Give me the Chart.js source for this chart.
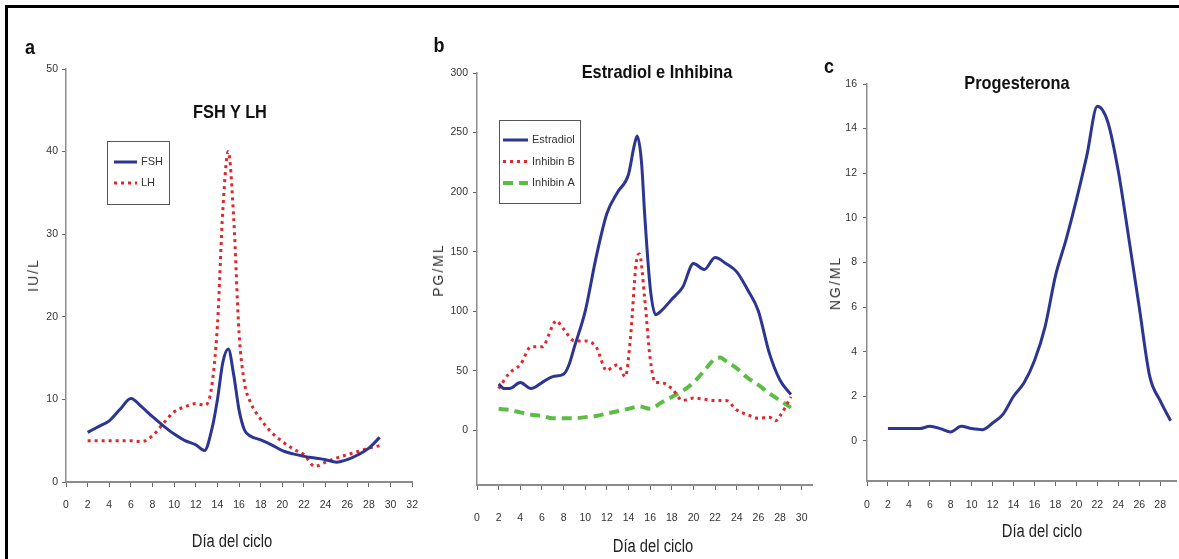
<!DOCTYPE html>
<html>
<head>
<meta charset="utf-8">
<script src="https://cdn.jsdelivr.net/npm/chart.js@4.4.0/dist/chart.umd.min.js"></script>
<style>
  html, body { margin: 0; padding: 0; background: #fff; }
  body { width: 1179px; height: 559px; position: relative; overflow: hidden;
         font-family: 'Liberation Sans', Arial, sans-serif; }
  .frame { position: absolute; left: 5px; top: 5px; width: 1200px; height: 600px;
           border-top: 3px solid #000; border-left: 3px solid #000; }
  canvas { position: absolute; top: 0; }
  .txt { position: absolute; white-space: nowrap; transform: translate(-50%, -50%); color: #111; }
  .letter { font-weight: bold; font-size: 20px; transform: translate(-50%, -50%) scaleX(0.9); }
  .title { font-weight: bold; font-size: 19px; transform: translate(-50%, -50%) scaleX(0.86); }
  .xt { font-size: 18px; color: #222; transform: translate(-50%, -50%) scaleX(0.82); }
  .yt { font-size: 14px; color: #333; letter-spacing: 2px;
        transform: translate(-50%, -50%) rotate(-90deg); }
</style>
</head>
<body>
<div class="frame"></div>

<canvas id="chartA" width="430" height="559" style="left:0px"></canvas>
<canvas id="chartB" width="410" height="559" style="left:420px"></canvas>
<canvas id="chartC" width="369" height="559" style="left:810px"></canvas>

<div class="txt letter" style="left:30px; top:47px">a</div>
<div class="txt letter" style="left:439px; top:45px">b</div>
<div class="txt letter" style="left:829px; top:66px">c</div>

<div class="txt title" style="left:230px; top:112px">FSH Y LH</div>
<div class="txt title" style="left:657px; top:72px">Estradiol e Inhibina</div>
<div class="txt title" style="left:1017px; top:83px">Progesterona</div>

<div class="txt xt" style="left:232px; top:541px">Día del ciclo</div>
<div class="txt xt" style="left:653px; top:546px">Día del ciclo</div>
<div class="txt xt" style="left:1042px; top:531px">Día del ciclo</div>

<div class="txt yt" style="left:33px; top:275px">IU/L</div>
<div class="txt yt" style="left:438px; top:270px">PG/ML</div>
<div class="txt yt" style="left:835px; top:283px">NG/ML</div>

<script>
// ---- Panel a: FSH y LH (IU/L) ----
const fshDays = [2, 3, 4, 5, 6, 7, 8, 9, 10, 11, 12, 12.8, 13.5, 14, 14.5, 15, 15.5, 16, 16.5, 17, 18, 19, 20, 21, 22, 23, 24, 25, 26, 27, 28, 29];
const fshVals = [6, 6.7, 7.4, 8.8, 10.1, 9.1, 7.9, 6.8, 5.8, 5.0, 4.5, 3.8, 6.5, 10, 14.5, 16.1, 13, 8.7, 6.3, 5.6, 5.1, 4.5, 3.8, 3.4, 3.1, 2.9, 2.7, 2.4, 2.7, 3.3, 4.1, 5.4];
const lhDays = [2, 3, 4, 5, 6, 7, 8, 9, 10, 11, 12, 12.8, 13.4, 14, 14.5, 15, 15.5, 16, 16.5, 17, 18, 19, 20, 21, 22, 23, 24, 25, 26, 27, 28, 29];
const lhVals = [5, 5, 5, 5, 5, 4.9, 5.6, 7.1, 8.5, 9.1, 9.5, 9.3, 11, 19, 33, 40, 32, 18, 12, 9.8, 7.6, 6.0, 4.9, 4.0, 3.3, 1.9, 2.4, 2.9, 3.3, 3.7, 4.1, 4.4];
const xTicksA = [0, 2, 4, 6, 8, 10, 12, 14, 16, 18, 20, 22, 24, 26, 28, 30, 32];
const yTicksA = [0, 10, 20, 30, 40, 50];

// ---- Panel b: Estradiol e Inhibina (PG/ML) ----
const e2Days = [2, 2.5, 3, 4, 5, 6, 7, 8, 8.5, 9, 10, 11, 12, 13, 14, 14.5, 14.8, 15.2, 15.5, 16, 16.5, 17, 18, 19, 20, 21, 22, 23, 24, 25, 26, 27, 28, 29];
const e2Vals = [39, 35, 35, 40, 35, 40, 45, 47, 55, 70, 100, 145, 182, 200, 215, 238, 247, 225, 180, 120, 97, 100, 110, 120, 140, 135, 145, 140, 133, 118, 100, 65, 42, 30];
const inhBDays = [2, 3, 4, 5, 6, 7, 7.3, 8, 9, 10, 11, 12, 12.5, 13, 13.7, 14.2, 14.7, 15, 15.5, 16, 16.5, 17, 18, 19, 20, 21, 22, 23, 24, 25, 26, 27, 27.6, 28, 29];
const inhBVals = [35, 48, 55, 70, 70, 88, 92, 85, 75, 75, 70, 50, 53, 55, 45, 80, 140, 148, 110, 60, 40, 40, 35, 25, 27, 26, 25, 25, 17, 13, 10, 11, 8, 12, 28];
const inhADays = [2, 3, 4, 5, 6, 7, 8, 9, 10, 11, 12, 13, 14, 15, 16, 17, 18, 19, 20, 21, 22, 22.5, 23, 24, 25, 26, 27, 28, 29];
const inhAVals = [18, 17, 15, 13, 12, 10, 10, 10, 11, 12, 14, 16, 18, 20, 18, 23, 28, 33, 40, 50, 60, 61, 58, 52, 44, 38, 31, 25, 19];
const xTicksB = [0, 2, 4, 6, 8, 10, 12, 14, 16, 18, 20, 22, 24, 26, 28, 30];
const yTicksB = [0, 50, 100, 150, 200, 250, 300];

// ---- Panel c: Progesterona (NG/ML) ----
const progDays = [2, 3, 4, 5, 6, 7, 8, 9, 10, 11, 12, 13, 14, 15, 16, 17, 18, 19, 20, 21, 22, 23, 24, 25, 26, 27, 28, 29];
const progVals = [0.55, 0.55, 0.55, 0.55, 0.65, 0.55, 0.4, 0.65, 0.55, 0.5, 0.8, 1.2, 2.0, 2.6, 3.6, 5.1, 7.4, 9.0, 10.8, 12.8, 15.0, 14.3, 12.1, 9.1, 6.0, 2.9, 1.8, 0.9];
const xTicksC = [0, 2, 4, 6, 8, 10, 12, 14, 16, 18, 20, 22, 24, 26, 28];
const yTicksC = [0, 2, 4, 6, 8, 10, 12, 14, 16];

const BLUE = '#2b3592';
const RED = '#e3262b';
const GREEN = '#5cbd45';
const tickFont = { family: "'Liberation Sans', Arial, sans-serif", size: 10.5 };

function pts(days, vals) {
    return days.map((d, i) => ({ x: d, y: vals[i] }));
}

// legend drawn as a box inside the plot
const boxLegend = {
    id: 'boxLegend',
    afterDraw(chart, args, opts) {
        if (!opts || opts.x === undefined) return;
        const ctx = chart.ctx;
        ctx.save();
        ctx.strokeStyle = '#555';
        ctx.lineWidth = 1;
        ctx.strokeRect(opts.x + 0.5, opts.y + 0.5, opts.w, opts.h);
        chart.data.datasets.forEach((ds, i) => {
            const y = opts.y + opts.firstRow + i * opts.rowGap;
            ctx.beginPath();
            ctx.strokeStyle = ds.borderColor;
            ctx.lineWidth = ds.borderWidth;
            ctx.setLineDash(ds.borderDash || []);
            ctx.moveTo(opts.x + opts.lineX0, y);
            ctx.lineTo(opts.x + opts.lineX1, y);
            ctx.stroke();
            ctx.setLineDash([]);
            ctx.fillStyle = '#333';
            ctx.font = "11px 'Liberation Sans', Arial";
            ctx.textBaseline = 'middle';
            ctx.fillText(ds.label, opts.x + opts.textX, y);
        });
        ctx.restore();
    }
};

function lineSet(label, data, color, width, dash) {
    return {
        label, data,
        borderColor: color,
        backgroundColor: color,
        borderWidth: width,
        borderDash: dash,
        pointRadius: 0,
        cubicInterpolationMode: 'monotone',
        fill: false
    };
}

function makeChart(id, cfg) {
    return new Chart(document.getElementById(id), {
        type: 'line',
        data: { datasets: cfg.datasets },
        options: {
            responsive: false,
            animation: false,
            layout: { padding: { left: 0, top: cfg.top, right: cfg.right, bottom: 0 } },
            plugins: {
                legend: { display: false },
                tooltip: { enabled: false },
                boxLegend: cfg.legend || {}
            },
            scales: {
                x: {
                    type: 'linear',
                    min: cfg.xMin, max: cfg.xMax,
                    border: { color: '#8c8c8c', width: 2 },
                    grid: { drawOnChartArea: false, tickLength: 5, color: '#666' },
                    ticks: { color: '#333', font: tickFont, padding: cfg.xPad, maxRotation: 0 },
                    afterBuildTicks: s => { s.ticks = cfg.xTicks.map(v => ({ value: v })); },
                    afterFit: s => { s.height = cfg.xHeight; }
                },
                y: {
                    min: cfg.yMin, max: cfg.yMax,
                    border: { color: '#8c8c8c', width: 1.5 },
                    grid: { drawOnChartArea: false, tickLength: 4, color: '#666' },
                    ticks: { color: '#333', font: tickFont, padding: cfg.yPad },
                    afterBuildTicks: s => { s.ticks = cfg.yTicks.map(v => ({ value: v })); },
                    afterFit: s => { s.width = cfg.yWidth; }
                }
            }
        },
        plugins: [boxLegend]
    });
}

makeChart('chartA', {
    datasets: [
        lineSet('FSH', pts(fshDays, fshVals), BLUE, 3, []),
        lineSet('LH', pts(lhDays, lhVals), RED, 3, [3, 4])
    ],
    xMin: 0, xMax: 32, yMin: 0, yMax: 50,
    xTicks: xTicksA, yTicks: yTicksA,
    top: 69, right: 11, xHeight: 77, yWidth: 66, xPad: 12, yPad: 4,
    legend: { x: 107, y: 141, w: 62, h: 63, firstRow: 21, rowGap: 21, lineX0: 7, lineX1: 30, textX: 34 }
});

makeChart('chartB', {
    datasets: [
        lineSet('Estradiol', pts(e2Days, e2Vals), BLUE, 3, []),
        lineSet('Inhibin B', pts(inhBDays, inhBVals), RED, 3, [3, 4]),
        lineSet('Inhibin A', pts(inhADays, inhAVals), GREEN, 4, [10, 6])
    ],
    xMin: 0, xMax: 31, yMin: -46, yMax: 300,
    xTicks: xTicksB, yTicks: yTicksB,
    top: 73, right: 14, xHeight: 74, yWidth: 57, xPad: 22, yPad: 5,
    legend: { x: 79, y: 120, w: 81, h: 83, firstRow: 20, rowGap: 21.5, lineX0: 4, lineX1: 29, textX: 33 }
});

makeChart('chartC', {
    datasets: [
        lineSet('Progesterona', pts(progDays, progVals), BLUE, 3, [])
    ],
    xMin: 0, xMax: 29.6, yMin: -1.8, yMax: 16,
    xTicks: xTicksC, yTicks: yTicksC,
    top: 84, right: 0, xHeight: 78, yWidth: 57, xPad: 13, yPad: 6
});
</script>
</body>
</html>
